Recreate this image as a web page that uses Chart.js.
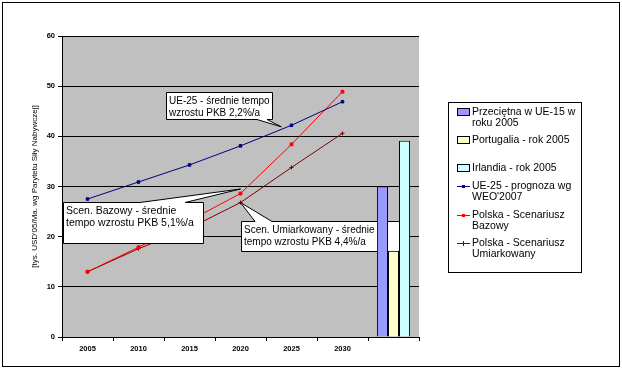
<!DOCTYPE html>
<html>
<head>
<meta charset="utf-8">
<script src="https://cdn.jsdelivr.net/npm/chart.js@4"></script>
<style>
  html, body { margin: 0; padding: 0; background: #fff; }
  #wrap { position: relative; width: 622px; height: 372px; }
</style>
</head>
<body>
<div id="wrap"><canvas id="gdpChart" width="622" height="372"></canvas></div>
<script>
// ========================
// DATA
// ========================
const years = ["2005", "2010", "2015", "2020", "2025", "2030", ""];

const ue25Forecast = [27.5, 30.9, 34.3, 38.1, 42.2, 46.9, null];
const plBase       = [13.0, 17.9, 23.2, 28.6, 38.4, 48.9, null];
const plModerate   = [13.0, 17.6, 21.7, 26.8, 33.8, 40.6, null];

const avgEu15 = [null, null, null, null, null, null, 30.0];
const portugal = [null, null, null, null, null, null, 17.2];
const ireland  = [null, null, null, null, null, null, 39.1];

const yTicks = [0, 10, 20, 30, 40, 50, 60];

const FONT = "'Liberation Sans', Arial, sans-serif";

// callouts: box in px, tip anchored in data coordinates
const callouts = [
  {
    lines: ["UE-25 - średnie tempo", "wzrostu PKB 2,2%/a"],
    box: { x: 166, y: 92, w: 106, h: 27 }, size: 10,
    edge: "bottom", base: [257, 267], tip: { x: 3.8, y: 41.9 }
  },
  {
    lines: ["Scen. Bazowy - średnie", "tempo wzrostu PKB 5,1%/a"],
    box: { x: 63, y: 202, w: 140, h: 41 }, size: 10.5,
    edge: "top", base: [140, 185], tip: { x: 3, y: 29.5 }
  },
  {
    lines: ["Scen. Umiarkowany - średnie", "tempo wzrostu PKB 4,4%/a"],
    box: { x: 241, y: 221, w: 158, h: 30 }, size: 10,
    edge: "top", base: [255, 272], tip: { x: 3, y: 26.8 }
  }
];

// ========================
// PLUGINS
// ========================
const frame = {
  id: "frame",
  beforeDraw(chart) {
    const { ctx, chartArea: a } = chart;
    ctx.save();
    ctx.fillStyle = "#fff";
    ctx.fillRect(0, 0, chart.width, chart.height);
    ctx.strokeStyle = "#000";
    ctx.lineWidth = 1;
    ctx.strokeRect(2.5, 2.5, 617, 364);
    ctx.fillStyle = "#c0c0c0";
    ctx.fillRect(a.left, a.top, a.right - a.left, a.bottom - a.top);
    ctx.restore();
  }
};

function drawCallout(chart, c) {
  const ctx = chart.ctx;
  const tx = chart.scales.x.getPixelForValue(c.tip.x);
  const ty = chart.scales.y.getPixelForValue(c.tip.y);
  const L = c.box.x + 0.5, T = c.box.y + 0.5;
  const R = L + c.box.w, B = T + c.box.h;
  ctx.save();
  ctx.beginPath();
  if (c.edge === "top") {
    ctx.moveTo(L, T);
    ctx.lineTo(c.base[0], T);
    ctx.lineTo(tx, ty);
    ctx.lineTo(c.base[1], T);
    ctx.lineTo(R, T);
    ctx.lineTo(R, B);
    ctx.lineTo(L, B);
  } else {
    ctx.moveTo(L, T);
    ctx.lineTo(R, T);
    ctx.lineTo(R, B);
    ctx.lineTo(c.base[1], B);
    ctx.lineTo(tx, ty);
    ctx.lineTo(c.base[0], B);
    ctx.lineTo(L, B);
  }
  ctx.closePath();
  ctx.fillStyle = "#fff";
  ctx.fill();
  ctx.strokeStyle = "#000";
  ctx.lineWidth = 1;
  ctx.stroke();
  ctx.fillStyle = "#000";
  ctx.font = c.size + "px " + FONT;
  ctx.textBaseline = "middle";
  const lh = c.size + 2;
  c.lines.forEach((s, i) => ctx.fillText(s, c.box.x + 3, c.box.y + 9 + i * lh));
  ctx.restore();
}

const calloutPlugin = {
  id: "callouts",
  // lines sit under the callouts, bars on top of them
  afterDatasetDraw(chart, args) {
    if (args.index === 3) callouts.forEach(c => drawCallout(chart, c));
  }
};

const legendItems = [
  { lines: ["Przeciętna w UE-15 w", "roku 2005"], y: 112 },
  { lines: ["Portugalia - rok 2005"], y: 140 },
  { lines: ["Irlandia - rok 2005"], y: 168 },
  { lines: ["UE-25 - prognoza wg", "WEO'2007"], y: 186 },
  { lines: ["Polska - Scenariusz", "Bazowy"], y: 215 },
  { lines: ["Polska - Scenariusz", "Umiarkowany"], y: 243 }
];

const boxLegend = {
  id: "boxLegend",
  afterDraw(chart) {
    const ctx = chart.ctx;
    ctx.save();
    ctx.strokeStyle = "#000";
    ctx.lineWidth = 1;
    ctx.strokeRect(448.5, 102.5, 133, 170);
    ctx.font = "10.5px " + FONT;
    ctx.textBaseline = "middle";
    legendItems.forEach((it, i) => {
      const ds = chart.data.datasets[i];
      if (ds.type === "line") {
        ctx.strokeStyle = ds.borderColor;
        ctx.beginPath();
        ctx.moveTo(457, it.y + 0.5);
        ctx.lineTo(470, it.y + 0.5);
        ctx.stroke();
        ctx.fillStyle = ds.borderColor;
        if (ds.pointStyle === "cross") {
          ctx.beginPath();
          ctx.moveTo(463.5, it.y - 2);
          ctx.lineTo(463.5, it.y + 3);
          ctx.stroke();
        } else {
          ctx.fillRect(462, it.y - 1, 3, 3);
        }
      } else {
        ctx.fillStyle = ds.backgroundColor;
        ctx.fillRect(457, it.y - 3, 13, 7);
        ctx.strokeStyle = "#000";
        ctx.strokeRect(457.5, it.y - 3.5, 12, 7);
      }
      ctx.fillStyle = "#000";
      it.lines.forEach((s, j) => ctx.fillText(s, 472, it.y + 0.5 + j * 10.5));
    });
    ctx.restore();
  }
};

// ========================
// CHART
// ========================
const bar = (label, data, color) => ({
  type: "bar", label, data,
  backgroundColor: color, borderColor: "#000", borderWidth: 1,
  barPercentage: 1.0, categoryPercentage: 0.65
});

const line = (label, data, color, style, r) => ({
  type: "line", label, data,
  borderColor: color, backgroundColor: color, borderWidth: 1,
  pointStyle: style, pointRadius: r, pointBorderWidth: 1,
  pointBackgroundColor: color, pointBorderColor: color,
  tension: 0, spanGaps: false
});

new Chart(document.getElementById("gdpChart"), {
  type: "bar",
  data: {
    labels: years,
    datasets: [
      bar("Przeciętna w UE-15 w roku 2005", avgEu15, "#9999ff"),
      bar("Portugalia - rok 2005", portugal, "#ffffcc"),
      bar("Irlandia - rok 2005", ireland, "#ccffff"),
      line("UE-25 - prognoza wg WEO'2007", ue25Forecast, "#000080", "rect", 1.8),
      line("Polska - Scenariusz Bazowy", plBase, "#ff0000", "rect", 2),
      line("Polska - Scenariusz Umiarkowany", plModerate, "#800000", "cross", 2)
    ]
  },
  options: {
    responsive: false,
    animation: false,
    devicePixelRatio: 1,
    layout: { padding: { top: 36, right: 203, left: 0, bottom: 0 } },
    plugins: {
      legend: { display: false },
      tooltip: { enabled: false }
    },
    scales: {
      x: {
        offset: true,
        afterFit(s) { s.height = 35; },
        grid: {
          offset: true, drawOnChartArea: false, color: "#000",
          tickLength: 4, tickColor: "#000"
        },
        border: { color: "#000", width: 1 },
        ticks: {
          color: "#000", padding: 3, maxRotation: 0, autoSkip: false,
          font: { family: FONT, size: 7.5, weight: "bold" }
        }
      },
      y: {
        min: 0, max: 60,
        afterFit(s) { s.width = 62; },
        afterBuildTicks(s) { s.ticks = yTicks.map(v => ({ value: v })); },
        grid: { color: "#000", lineWidth: 1, tickLength: 4, tickColor: "#000" },
        border: { color: "#000", width: 1 },
        ticks: {
          color: "#000", padding: 3,
          font: { family: FONT, size: 7.5, weight: "bold" }
        },
        title: {
          display: true,
          text: "[tys. USD'05/Ma. wg Parytetu Siły Nabywczej]",
          color: "#000",
          padding: { top: 30, bottom: 0 },
          font: { family: FONT, size: 8 }
        }
      }
    }
  },
  plugins: [frame, calloutPlugin, boxLegend]
});
</script>
</body>
</html>
